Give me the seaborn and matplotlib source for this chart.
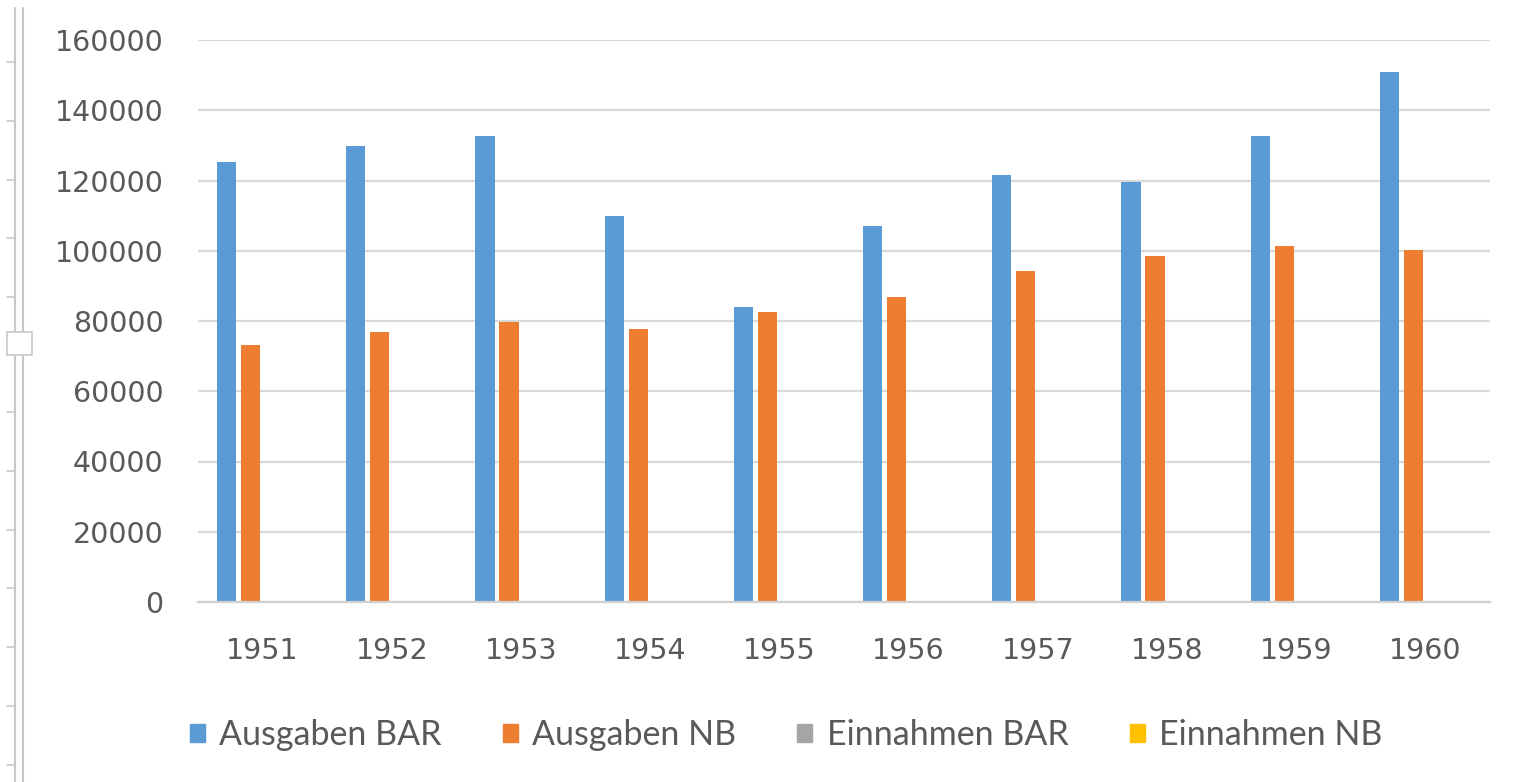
import matplotlib
matplotlib.use('Agg')
import matplotlib.pyplot as plt
from matplotlib.lines import Line2D
from matplotlib.patches import Rectangle
import seaborn as sns
import pandas as pd

# Daten
jahre = ['1951', '1952', '1953', '1954', '1955', '1956', '1957', '1958', '1959', '1960']
ausgaben_bar = [125300, 129700, 132600, 110000, 84000, 107100, 121700, 119500, 132600, 150800]
ausgaben_nb = [73200, 76900, 79800, 77600, 82700, 86900, 94300, 98600, 101400, 100100]
einnahmen_bar = [0, 0, 0, 0, 0, 0, 0, 0, 0, 0]
einnahmen_nb = [0, 0, 0, 0, 0, 0, 0, 0, 0, 0]

reihen = ['Ausgaben BAR', 'Ausgaben NB', 'Einnahmen BAR', 'Einnahmen NB']
farben = ['#5B9BD5', '#ED7D31', '#A5A5A5', '#FFC000']

df = pd.DataFrame({
    'Jahr': jahre * 4,
    'Wert': ausgaben_bar + ausgaben_nb + einnahmen_bar + einnahmen_nb,
    'Reihe': [r for r in reihen for _ in jahre],
})

sns.set_style('white')
plt.rcParams['font.family'] = ['DejaVu Sans']

fig = plt.figure(figsize=(15.27, 7.82), dpi=100)
ax = fig.add_axes([198 / 1527, 1 - 602 / 782, 1292 / 1527, 562 / 782])

sns.barplot(data=df, x='Jahr', y='Wert', hue='Reihe', hue_order=reihen,
            palette=dict(zip(reihen, farben)), saturation=1, width=0.742, gap=0.2,
            linewidth=0, errorbar=None, ax=ax, legend=False)

ax.set_ylim(0, 160000)
ax.set_yticks(range(0, 160001, 20000))
ax.set_xlim(-0.5, len(jahre) - 0.5)
ax.yaxis.grid(True, color='#D9D9D9', linewidth=1.6)
ax.set_axisbelow(True)
for s in ['left', 'right', 'top']:
    ax.spines[s].set_visible(False)
ax.spines['bottom'].set_color('#D0D0D0')
ax.spines['bottom'].set_linewidth(1.6)
ax.set_xlabel('')
ax.set_ylabel('')
ax.tick_params(axis='both', length=0, labelsize=20.5, labelcolor='#595959')
ax.tick_params(axis='y', pad=25)
ax.tick_params(axis='x', pad=25)

# Legende unten
handles = [Rectangle((0, 0), 1, 1, color=c) for c in farben]
fig.legend(handles, reihen, loc='center', bbox_to_anchor=(786 / 1527, 1 - 735 / 782),
           ncol=4, frameon=False, handlelength=0.44, handleheight=0.44,
           handletextpad=0.42, columnspacing=1.8,
           prop={'family': 'Lato', 'size': 24.5}, labelcolor='#595959')

# Rollbalken am linken Rand (Bildschirmfoto-Rest)
W, H = 1527, 782
for x in (15.5, 22.5):
    fig.add_artist(Line2D([x / W, x / W], [0, 1 - 8 / H], color='#C8C8C8', linewidth=1.5))
for y in [62, 121, 180, 238, 297, 412, 471, 530, 588, 647, 706, 765]:
    fig.add_artist(Line2D([7 / W, 15 / W], [1 - y / H, 1 - y / H], color='#C8C8C8', linewidth=1.2))
fig.add_artist(Rectangle((7 / W, 1 - 355 / H), 25 / W, 23 / H, facecolor='white',
                         edgecolor='#C8C8C8', linewidth=1.2, zorder=5))

fig.savefig('out.png', dpi=100)
